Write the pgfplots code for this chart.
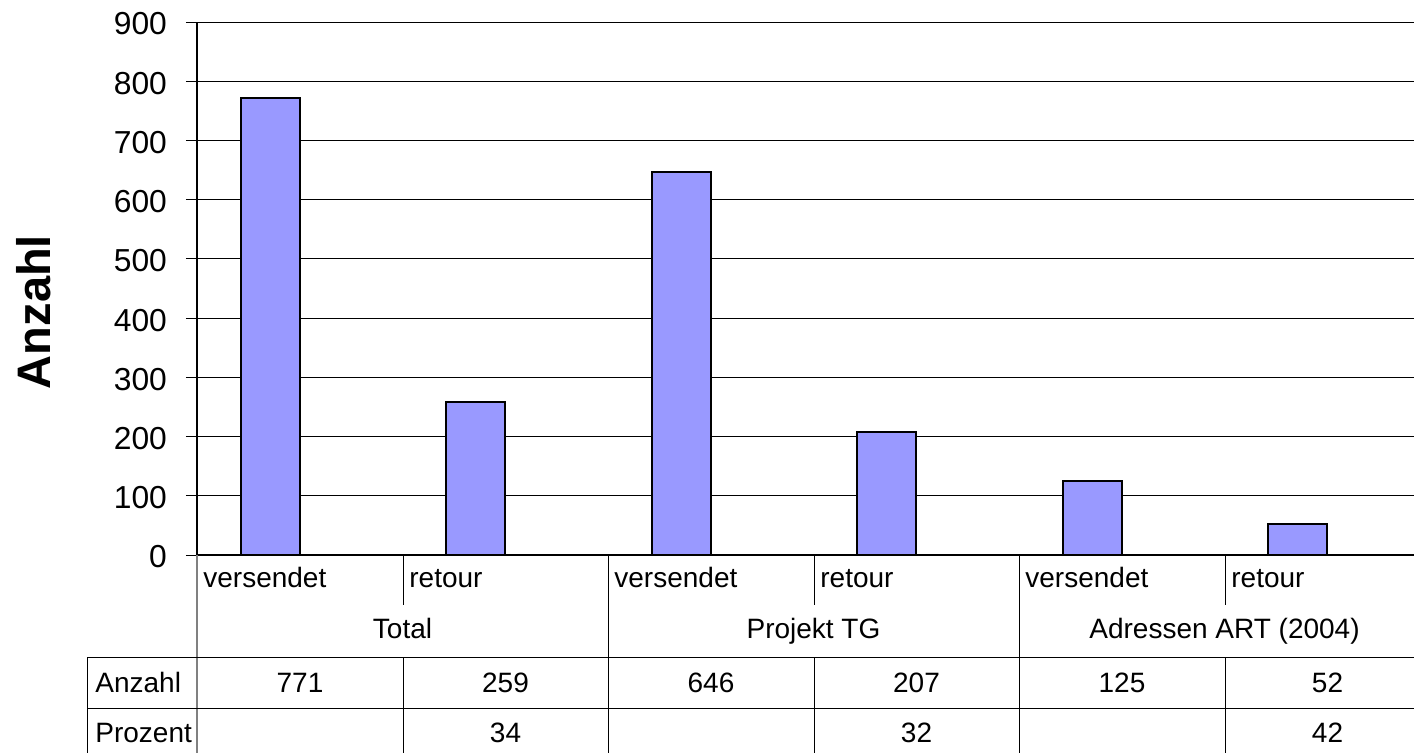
\documentclass[border=0pt]{standalone}
\usepackage{fontspec}
\setmainfont{Liberation Sans}
\usepackage{pgfplots}
\pgfplotsset{compat=1.18}
\definecolor{barfill}{RGB}{153,153,255}
\definecolor{tgray}{RGB}{128,128,128}
\begin{document}
\begin{tikzpicture}
\useasboundingbox (0,0) rectangle (707pt,376pt);
\clip (0,0) rectangle (707pt,376pt);
\begin{axis}[
  at={(98.5pt,98.5pt)}, anchor=south west,
  scale only axis, width=608.5pt, height=266.5pt,
  xmin=-0.5, xmax=5.4222, ymin=0, ymax=900,
  ytick={0,100,...,900}, xtick=\empty,
  axis lines*=left,
  axis line style={black, line width=1pt},
  ymajorgrids, grid style={black, line width=0.5pt},
  tick align=outside, major tick length=5.5pt,
  ytick style={black, line width=0.5pt},
  /pgf/number format/assume math mode=true,
  yticklabel style={font=\fontsize{15.9}{19}\selectfont, xshift=-6pt, yshift=-1pt},
  ylabel={Anzahl},
  ylabel style={at={(axis description cs:-0.1339,0.456)}, anchor=center,
    font=\fontsize{23.5}{28}\selectfont\bfseries},
  clip=false,
]
\addplot[ybar, bar width=29.5pt, bar shift=-14.75pt, fill=barfill, draw=black, line width=1pt]
  coordinates {(0,771) (1,259) (2,646) (3,207) (4,125) (5,52)};
\end{axis}
\begin{scope}[x=0.5pt,y=-0.5pt,shift={(0,376pt)}]
  \tikzset{lab/.style={font=\fontsize{14}{17}\selectfont, inner sep=0pt}}
  % table lines
  \draw[tgray, line width=0.8pt] (197,555) -- (197,760);
  \draw[black, line width=0.5pt] (403,555) -- (403,605) (814,555) -- (814,605) (1225,555) -- (1225,605);
  \draw[black, line width=0.5pt] (608,555) -- (608,760) (1019,555) -- (1019,760);
  \draw[black, line width=0.5pt] (403,657) -- (403,760) (814,657) -- (814,760) (1225,657) -- (1225,760);
  \draw[black, line width=0.5pt] (87,657) -- (1420,657) (87,708) -- (1420,708) (87,657) -- (87,760);
  % category labels
  \foreach \x/\t in {203/versendet,409/retour,614/versendet,820/retour,1025/versendet,1231/retour}
    \node[lab, anchor=base west] at (\x,587) {\t};
  % group labels
  \node[lab, anchor=base] at (402.5,638) {Total};
  \node[lab, anchor=base] at (813.5,638) {Projekt TG};
  \node[lab, anchor=base] at (1224.5,638) {Adressen ART (2004)};
  % row labels
  \node[lab, anchor=base west] at (95,692) {Anzahl};
  \node[lab, anchor=base west] at (95,742) {Prozent};
  % values
  \foreach \x/\v in {300/771,505.5/259,711/646,916.5/207,1122/125,1327.5/52}
    \node[lab, anchor=base] at (\x,692) {\v};
  \foreach \x/\v in {505.5/34,916.5/32,1327.5/42}
    \node[lab, anchor=base] at (\x,742) {\v};
\end{scope}
\end{tikzpicture}
\end{document}
